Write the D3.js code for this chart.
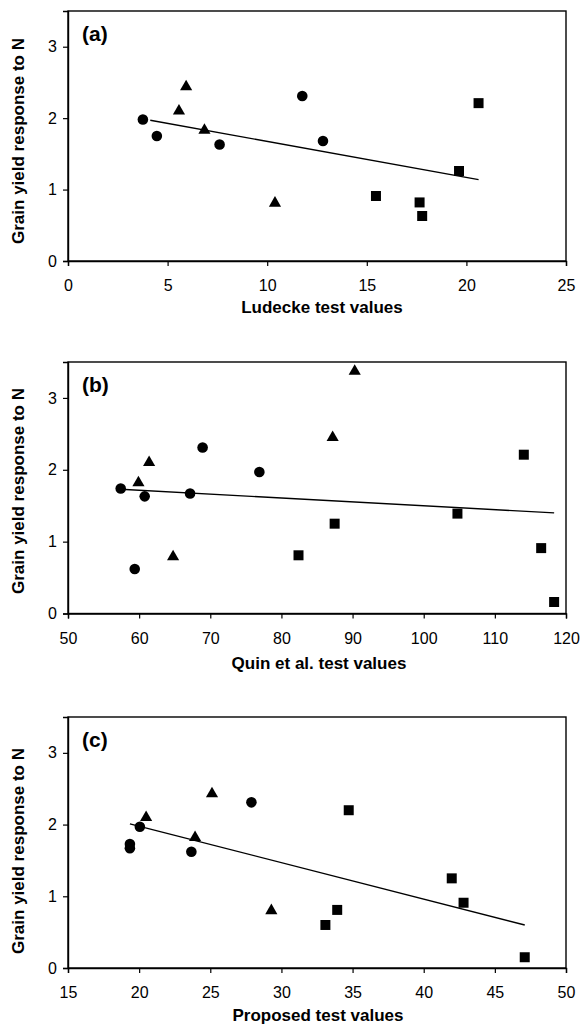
<!DOCTYPE html>
<html>
<head>
<meta charset="utf-8">
<script src="https://cdn.jsdelivr.net/npm/d3@7"></script>
<style>
  html, body { margin: 0; padding: 0; background: #fff; }
  svg { display: block; }
  text { font-family: "Liberation Sans", Arial, sans-serif; fill: #000; }
</style>
</head>
<body>
<svg id="chart" width="581" height="1028"></svg>
<script>
// ---------- DATA ----------
const yTicks = [0, 1, 2, 3];
const yLabel = "Grain yield response to N";

// Panel (a) Ludecke
const aTitle = "(a)";
const aXLabel = "Ludecke test values";
const aXTicks = [0, 5, 10, 15, 20, 25];
const aCircleX = [3.76, 4.46, 7.61, 11.76, 12.8];
const aCircleY = [1.98, 1.75, 1.63, 2.31, 1.68];
const aTriX = [5.57, 5.93, 6.85, 10.39];
const aTriY = [2.10, 2.44, 1.83, 0.81];
const aSqX = [20.61, 15.46, 17.65, 17.78, 19.63];
const aSqY = [2.21, 0.91, 0.82, 0.63, 1.26];
const aLineX = [4.13, 20.61];
const aLineY = [1.97, 1.14];

// Panel (b) Quin et al.
const bTitle = "(b)";
const bXLabel = "Quin et al. test values";
const bXTicks = [50, 60, 70, 80, 90, 100, 110, 120];
const bCircleX = [57.41, 60.78, 67.16, 68.92, 76.9, 59.38];
const bCircleY = [1.74, 1.63, 1.67, 2.31, 1.97, 0.62];
const bTriX = [59.9, 61.4, 64.77, 87.2, 90.3];
const bTriY = [1.82, 2.10, 0.79, 2.45, 3.37];
const bSqX = [114.07, 82.4, 87.48, 104.74, 116.51, 118.33];
const bSqY = [2.21, 0.81, 1.25, 1.39, 0.91, 0.16];
const bLineX = [57.41, 118.33];
const bLineY = [1.73, 1.40];

// Panel (c) Proposed
const cTitle = "(c)";
const cXLabel = "Proposed test values";
const cXTicks = [15, 20, 25, 30, 35, 40, 45, 50];
const cCircleX = [19.35, 19.35, 20.05, 23.67, 27.89];
const cCircleY = [1.73, 1.67, 1.97, 1.62, 2.31];
const cTriX = [20.49, 25.12, 23.93, 29.29];
const cTriY = [2.10, 2.43, 1.82, 0.80];
const cSqX = [34.73, 33.09, 33.92, 41.97, 42.8, 47.1];
const cSqY = [2.20, 0.60, 0.81, 1.25, 0.91, 0.15];
const cLineX = [19.35, 47.1];
const cLineY = [2.01, 0.60];

// ---------- LAYOUT ----------
const svg = d3.select("#chart");
const left = 68, right = 566;

const panels = [
  { title: aTitle, xLabel: aXLabel, xTicks: aXTicks, xDomain: [0, 25],
    cx: aCircleX, cy: aCircleY, tx: aTriX, ty: aTriY, sx: aSqX, sy: aSqY, lx: aLineX, ly: aLineY,
    y0: 261, yTop: 11, yLabelC: 141, xLabelX: 322, xLabelY: 313 },
  { title: bTitle, xLabel: bXLabel, xTicks: bXTicks, xDomain: [50, 120],
    cx: bCircleX, cy: bCircleY, tx: bTriX, ty: bTriY, sx: bSqX, sy: bSqY, lx: bLineX, ly: bLineY,
    y0: 613.5, yTop: 362, yLabelC: 491, xLabelX: 319, xLabelY: 669 },
  { title: cTitle, xLabel: cXLabel, xTicks: cXTicks, xDomain: [15, 50],
    cx: cCircleX, cy: cCircleY, tx: cTriX, ty: cTriY, sx: cSqX, sy: cSqY, lx: cLineX, ly: cLineY,
    y0: 968, yTop: 717, yLabelC: 851, xLabelX: 318, xLabelY: 1021 }
];

panels.forEach(p => {
  const x = d3.scaleLinear().domain(p.xDomain).range([left, right]);
  const y = d3.scaleLinear().domain([0, 3.5]).range([p.y0, p.yTop]);
  const g = svg.append("g");

  // frame
  g.append("rect")
    .attr("x", left).attr("y", p.yTop)
    .attr("width", right - left).attr("height", p.y0 - p.yTop)
    .attr("fill", "none").attr("stroke", "#000").attr("stroke-width", 1.4);

  // x axis
  const xa = g.append("g").attr("transform", `translate(0,${p.y0})`)
    .call(d3.axisBottom(x).tickValues(p.xTicks).tickSize(5).tickPadding(14).tickFormat(d3.format("d")));
  xa.select(".domain").attr("stroke-width", 1.4);
  xa.selectAll(".tick line").attr("stroke-width", 1.2);
  xa.selectAll("text").style("font-size", "16px").style("font-family", "Liberation Sans, Arial, sans-serif");

  // y axis
  const ya = g.append("g").attr("transform", `translate(${left},0)`)
    .call(d3.axisLeft(y).tickValues(yTicks).tickSize(5).tickPadding(6).tickFormat(d3.format("d")));
  ya.select(".domain").attr("stroke-width", 1.4);
  ya.selectAll(".tick line").attr("stroke-width", 1.2);
  ya.selectAll("text").style("font-size", "16px").style("font-family", "Liberation Sans, Arial, sans-serif");

  // panel title
  g.append("text").attr("x", 82).attr("y", p.yTop + 30)
    .style("font-size", "21px").style("font-weight", "bold").text(p.title);

  // axis titles
  g.append("text").attr("text-anchor", "middle")
    .attr("transform", `translate(24,${p.yLabelC}) rotate(-90)`)
    .style("font-size", "17px").style("font-weight", "bold").text(yLabel);
  g.append("text").attr("text-anchor", "middle")
    .attr("x", p.xLabelX).attr("y", p.xLabelY)
    .style("font-size", "17px").style("font-weight", "bold").text(p.xLabel);

  // regression line
  const lineData = p.lx.map((v, i) => [v, p.ly[i]]);
  g.append("path").datum(lineData)
    .attr("d", d3.line().x(d => x(d[0])).y(d => y(d[1])))
    .attr("fill", "none").attr("stroke", "#000").attr("stroke-width", 1.4);

  // markers
  const sets = [
    { xs: p.cx, ys: p.cy, sym: d3.symbolCircle, size: 88 },
    { xs: p.tx, ys: p.ty, sym: d3.symbolTriangle, size: 64 },
    { xs: p.sx, ys: p.sy, sym: d3.symbolSquare, size: 100 }
  ];
  sets.forEach(s => {
    const pts = s.xs.map((v, i) => [v, s.ys[i]]);
    g.selectAll(null).data(pts).enter().append("path")
      .attr("transform", d => `translate(${x(d[0])},${y(d[1])})`)
      .attr("d", d3.symbol().type(s.sym).size(s.size))
      .attr("fill", "#000");
  });
});
</script>
</body>
</html>
